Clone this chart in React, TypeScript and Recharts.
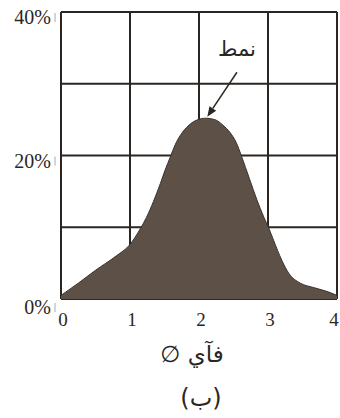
import React from 'react';
import { AreaChart, Area, XAxis, YAxis, CartesianGrid, ReferenceLine } from 'recharts';

// phi size scale and percentage of grains at each point
const phi = [0, 0.25, 0.5, 0.8, 1.0, 1.15, 1.24, 1.34, 1.44, 1.51, 1.58, 1.66, 1.75, 1.84, 1.96, 2.1, 2.23, 2.35, 2.45, 2.54, 2.62, 2.73, 2.84, 2.94, 3.01, 3.08, 3.2, 3.3, 3.47, 3.66, 3.9, 4.0];
const share = [0.5, 2.2, 4.0, 6.0, 7.6, 9.8, 11.4, 13.6, 16.1, 18.0, 19.7, 21.6, 23.1, 24.1, 24.9, 25.2, 25.0, 24.2, 23.2, 21.8, 19.8, 16.8, 13.8, 11.4, 9.9, 8.2, 5.4, 3.6, 2.2, 1.6, 0.9, 0.5];

const xTicks = [0, 1, 2, 3, 4];
const yTicks = [0, 10, 20, 30, 40];

// mode annotation: label position and arrow from label down to the peak
const modeLabel = 'نمط';
const arrowFrom = { x: 2.55, y: 31.6 };
const arrowTo = { x: 2.12, y: 25.4 };

const data = phi.map((p, i) => ({ phi: p, share: share[i] }));

const INK = '#2b2622';
const serif = '"Liberation Serif", "DejaVu Serif", serif';
const arabic = '"DejaVu Sans", "Noto Sans", sans-serif';

const YTick = (props: any) => {
  const { x, y, payload } = props;
  if (payload.value % 20 !== 0) return null;
  const shift = payload.value === 0 ? 8 : 5;
  return (
    <g>
      <text x={x - 2} y={y + shift} dy="0.35em" textAnchor="end" fontFamily={serif} fontSize={20} fill={INK}>
        {payload.value}%
      </text>
      <line x1={x + 2} x2={x + 2} y1={y + shift - 4} y2={y + shift + 5} stroke="#aaa" strokeWidth={1} />
    </g>
  );
};

const XTick = (props: any) => {
  const { x, y, payload } = props;
  const dx = payload.value === 4 ? -3 : 2;
  return (
    <text x={x + dx} y={y + 19} textAnchor="middle" fontFamily={serif} fontSize={19} fill={INK}>
      {payload.value}
    </text>
  );
};

const Arrow = (props: any) => {
  const { x1, y1, x2, y2 } = props;
  const ang = Math.atan2(y2 - y1, x2 - x1);
  const len = 10;
  const w = 4;
  const bx = x2 - len * Math.cos(ang);
  const by = y2 - len * Math.sin(ang);
  const px = -Math.sin(ang) * w;
  const py = Math.cos(ang) * w;
  return (
    <g>
      <line x1={x1} y1={y1} x2={bx} y2={by} stroke={INK} strokeWidth={1.5} />
      <polygon points={`${x2},${y2} ${bx + px},${by + py} ${bx - px},${by - py}`} fill={INK} />
      <text x={x1} y={y1 - 16} textAnchor="middle" fontFamily={arabic} fontSize={21} fill={INK}>
        {modeLabel}
      </text>
    </g>
  );
};

export default function App() {
  return (
    <div style={{ position: 'absolute', left: 0, top: 0, width: 340, height: 418, background: '#fff' }}>
      <AreaChart width={340} height={418} data={data} margin={{ top: 12, right: 3, left: 0, bottom: 89 }}>
        <CartesianGrid stroke={INK} strokeWidth={2} horizontal vertical />
        <XAxis
          dataKey="phi"
          type="number"
          domain={[0, 4]}
          ticks={xTicks}
          axisLine={false}
          tickLine={false}
          height={30}
          tick={<XTick />}
          interval={0}
        />
        <YAxis
          type="number"
          domain={[0, 40]}
          ticks={yTicks}
          axisLine={false}
          tickLine={false}
          width={61}
          tick={<YTick />}
          interval={0}
        />
        <Area
          type="monotone"
          dataKey="share"
          stroke="#3a312b"
          strokeWidth={1}
          fill="#5d5047"
          fillOpacity={1}
          isAnimationActive={false}
        />
        <ReferenceLine segment={[arrowFrom, arrowTo]} shape={<Arrow />} ifOverflow="visible" />
      </AreaChart>
      <div
        dir="rtl"
        style={{ position: 'absolute', left: 0, width: 384, top: 341, textAlign: 'center', fontFamily: arabic, fontSize: 23, color: INK }}
      >
        فآي ∅
      </div>
      <div
        dir="rtl"
        style={{ position: 'absolute', left: 0, width: 402, top: 384, textAlign: 'center', fontFamily: arabic, fontSize: 24, color: INK }}
      >
        (ب)
      </div>
    </div>
  );
}
